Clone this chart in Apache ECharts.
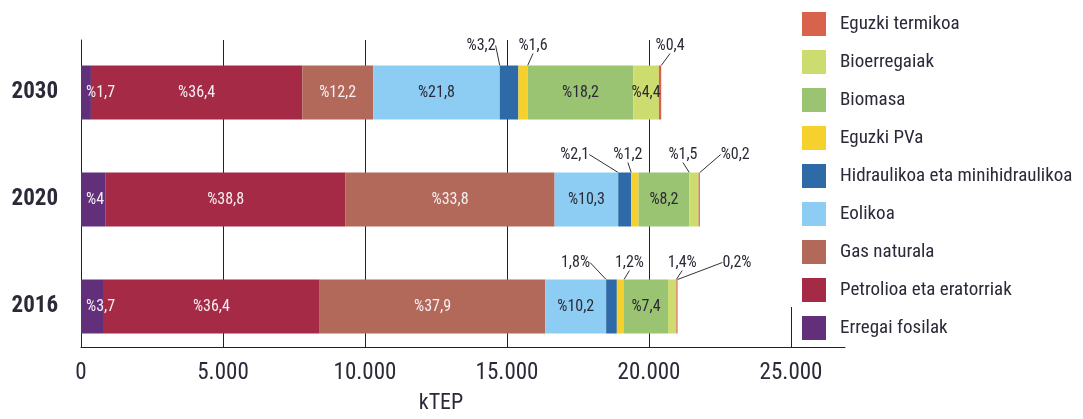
<!DOCTYPE html>
<html><head><meta charset="utf-8">
<script src="https://cdn.jsdelivr.net/npm/echarts@6/dist/echarts.min.js"></script>
<style>html,body{margin:0;padding:0;background:#fff}#c{width:1083px;height:419px}</style>
</head><body><div id="c"></div>
<script>
// ---------- DATA ----------
const years = ['2016', '2020', '2030'];
const seriesNames = ['Erregai fosilak', 'Petrolioa eta eratorriak', 'Gas naturala', 'Eolikoa',
  'Hidraulikoa eta minihidraulikoa', 'Eguzki PVa', 'Biomasa', 'Bioerregaiak', 'Eguzki termikoa'];
// kTEP per year, order [2016, 2020, 2030]
const erregaiFosilak = [775, 870, 350];
const petrolioa = [7630, 8445, 7440];
const gasNaturala = [7945, 7360, 2495];
const eolikoa = [2140, 2240, 4460];
const hidraulikoa = [377, 457, 655];
const eguzkiPVa = [252, 261, 327];
const biomasa = [1550, 1785, 3720];
const bioerregaiak = [293, 327, 900];
const eguzkiTermikoa = [42, 44, 82];
// percentage labels, order [2016, 2020, 2030]
const lblErregai = ['%3,7', '%4', '%1,7'];
const lblPetrolioa = ['%36,4', '%38,8', '%36,4'];
const lblGas = ['%37,9', '%33,8', '%12,2'];
const lblEolikoa = ['%10,2', '%10,3', '%21,8'];
const lblHidraulikoa = ['1,8%', '%2,1', '%3,2'];
const lblPVa = ['1,2%', '%1,2', '%1,6'];
const lblBiomasa = ['%7,4', '%8,2', '%18,2'];
const lblBioerregaiak = ['1,4%', '%1,5', '%4,4'];
const lblTermikoa = ['0,2%', '%0,2', '%0,4'];
const xTickMax = 26900;
const xTickStep = 5000;
const axisName = 'kTEP';

// ---------- STYLE ----------
const FONT = "'Roboto Condensed', 'Open Sans Condensed', 'DejaVu Sans Condensed', sans-serif";
const DARK = '#2a2a38';
const LIGHT = '#f6eef2';
const colors = ['#62307a', '#a42a46', '#b3695a', '#8ecdf3', '#2d6aa7', '#f6d12d', '#9bc472', '#cddc6f', '#d8634c'];
const allValues = [erregaiFosilak, petrolioa, gasNaturala, eolikoa, hidraulikoa, eguzkiPVa, biomasa, bioerregaiak, eguzkiTermikoa];
const allLabels = [lblErregai, lblPetrolioa, lblGas, lblEolikoa, lblHidraulikoa, lblPVa, lblBiomasa, lblBioerregaiak, lblTermikoa];
// label placement per series per year: 'L' insideLeft, 'I' inside, 'T' above with guide line
const placement = [
  ['L', 'L', 'L'], ['I', 'I', 'I'], ['I', 'I', 'I'], ['I', 'I', 'I'],
  ['T', 'T', 'T'], ['T', 'T', 'T'], ['I', 'I', 'I'], ['T', 'T', 'I'], ['T', 'T', 'T']
];
const textColor = [LIGHT, LIGHT, LIGHT, DARK, DARK, DARK, DARK, DARK, DARK];
// horizontal offsets (px) of the above-bar labels
const labelDx = {
  4: [-36, -50, -28],
  5: [9, -7, 10],
  7: [10, -11, 0],
  8: [60, 36, 10]
};
const labelDy = [0, -1, -3];

function fmt(v) { return String(v).replace(/\B(?=(\d{3})+(?!\d))/g, '.'); }

const series = seriesNames.map((name, i) => ({
  name: name,
  type: 'bar',
  stack: 'total',
  xAxisIndex: 1,
  yAxisIndex: 1,
  barWidth: 54,
  itemStyle: { color: colors[i] },
  labelLine: { show: false, lineStyle: { color: '#333', width: 1 } },
  labelLayout: function (p) {
    if (placement[p.seriesIndex][p.dataIndex] !== 'T') return {};
    return { dx: labelDx[p.seriesIndex][p.dataIndex], dy: labelDy[p.dataIndex] };
  },
  data: allValues[i].map((v, j) => {
    const pl = placement[i][j];
    return {
      value: v,
      label: {
        show: true,
        formatter: allLabels[i][j],
        position: pl === 'L' ? 'insideLeft' : (pl === 'T' ? 'top' : 'inside'),
        distance: pl === 'T' ? 9 : 5,
        color: pl === 'T' ? DARK : textColor[i],
        fontFamily: FONT,
        fontSize: 16
      },
      labelLine: { show: pl === 'T', lineStyle: { color: '#333', width: 1 } }
    };
  })
}));

const option = {
  animation: false,
  backgroundColor: '#fff',
  grid: [
    { left: 81, right: 238, top: 40, bottom: 72, outerBoundsMode: 'none', containLabel: false },
    { left: 81, right: 238, top: 39, bottom: 59, outerBoundsMode: 'none', containLabel: false }
  ],
  xAxis: [
    {
      gridIndex: 0, type: 'value', min: 0, max: xTickMax, interval: xTickStep,
      axisLine: { show: true, lineStyle: { color: '#222', width: 1 } },
      axisTick: { show: false },
      splitLine: { show: true, lineStyle: { color: ['#222', '#222', '#222', '#222', '#222', '#222', 'rgba(0,0,0,0)'], width: 1 } },
      axisLabel: { fontFamily: FONT, fontSize: 23, color: DARK, margin: 15, showMaxLabel: false, formatter: fmt },
      name: axisName, nameLocation: 'middle', nameGap: 45,
      nameTextStyle: { fontFamily: FONT, fontSize: 22, color: DARK, padding: [0, 44, 0, 0] }
    },
    { gridIndex: 1, type: 'value', min: 0, max: xTickMax, interval: xTickStep, show: false }
  ],
  yAxis: [
    {
      gridIndex: 0, type: 'value', min: 0, max: 1,
      axisLine: { show: true, lineStyle: { color: '#222', width: 1 } },
      axisTick: { show: false }, axisLabel: { show: false }, splitLine: { show: false }
    },
    {
      gridIndex: 1, type: 'category', data: years,
      axisLine: { show: false }, axisTick: { show: false }, splitLine: { show: false },
      axisLabel: { fontFamily: FONT, fontSize: 23, fontWeight: 'bold', color: DARK, margin: 23 }
    }
  ],
  legend: {
    data: seriesNames.slice().reverse(),
    orient: 'vertical', left: 797, top: 7,
    icon: 'rect', itemWidth: 24, itemHeight: 24, itemGap: 14,
    textStyle: { fontFamily: FONT, fontSize: 19, color: DARK, padding: [0, 0, 0, 9] }
  },
  graphic: [
    { type: 'rect', z: 10, shape: { x: 786, y: 30, width: 10, height: 277 }, style: { fill: '#fff' } }
  ],
  series: series
};

const chart = echarts.init(document.getElementById('c'), null, { renderer: 'canvas' });
chart.setOption(option);
</script>
</body></html>
